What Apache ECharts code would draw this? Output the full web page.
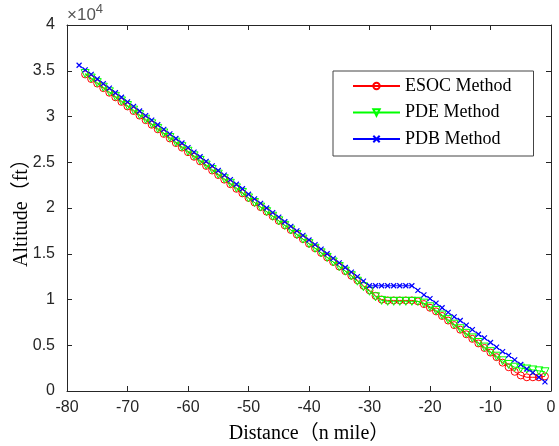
<!DOCTYPE html>
<html><head><meta charset="utf-8">
<script src="https://cdn.jsdelivr.net/npm/echarts@6/dist/echarts.min.js"></script>
<style>html,body{margin:0;padding:0;background:#fff}#c{width:559px;height:446px}</style>
</head><body><div id="c"></div><script>
// Distance (n mile) and altitude (x10^4 ft)
const pdbDist = [-78,-77,-76,-75,-74,-73,-72,-71,-70,-69,-68,-67,-66,-65,-64,-63,-62,-61,-60,-59,-58,-57,-56,-55,-54,-53,-52,-51,-50,-49,-48,-47,-46,-45,-44,-43,-42,-41,-40,-39,-38,-37,-36,-35,-34,-33,-32,-31,-30,-29,-28,-27,-26,-25,-24,-23,-22,-21,-20,-19,-18,-17,-16,-15,-14,-13,-12,-11,-10,-9,-8,-7,-6,-5,-4,-3,-2,-1];
const pdbAlt = [3.56,3.51,3.46,3.41,3.36,3.31,3.26,3.21,3.16,3.11,3.06,3.01,2.96,2.91,2.86,2.81,2.76,2.71,2.66,2.61,2.56,2.51,2.46,2.41,2.36,2.31,2.26,2.21,2.15,2.10,2.05,2.00,1.95,1.90,1.85,1.80,1.75,1.70,1.65,1.60,1.55,1.50,1.45,1.40,1.35,1.30,1.25,1.20,1.15,1.15,1.15,1.15,1.15,1.15,1.15,1.15,1.10,1.05,1.01,0.96,0.91,0.86,0.81,0.77,0.72,0.67,0.62,0.58,0.53,0.48,0.43,0.39,0.34,0.29,0.24,0.20,0.15,0.10];
const esocDist = [-77,-76,-75,-74,-73,-72,-71,-70,-69,-68,-67,-66,-65,-64,-63,-62,-61,-60,-59,-58,-57,-56,-55,-54,-53,-52,-51,-50,-49,-48,-47,-46,-45,-44,-43,-42,-41,-40,-39,-38,-37,-36,-35,-34,-33,-32,-31,-30,-29,-28,-27,-26,-25,-24,-23,-22,-21,-20,-19,-18,-17,-16,-15,-14,-13,-12,-11,-10,-9,-8,-7,-6,-5,-4,-3,-2,-1];
const esocAlt = [3.46,3.41,3.36,3.31,3.26,3.21,3.16,3.11,3.06,3.01,2.96,2.91,2.86,2.81,2.76,2.71,2.66,2.61,2.56,2.51,2.46,2.41,2.36,2.31,2.26,2.21,2.16,2.11,2.06,2.01,1.96,1.91,1.86,1.81,1.76,1.71,1.66,1.61,1.56,1.51,1.46,1.41,1.36,1.31,1.26,1.21,1.15,1.10,1.04,1.00,0.99,0.99,0.99,0.99,0.99,0.98,0.95,0.91,0.87,0.82,0.77,0.72,0.67,0.62,0.57,0.52,0.47,0.42,0.37,0.31,0.26,0.21,0.17,0.15,0.15,0.15,0.16];
const pdeDist = esocDist;
const pdeAlt = [3.47,3.42,3.37,3.32,3.27,3.22,3.17,3.12,3.07,3.02,2.97,2.92,2.87,2.82,2.77,2.72,2.67,2.62,2.57,2.52,2.47,2.42,2.37,2.32,2.27,2.22,2.17,2.11,2.06,2.01,1.96,1.91,1.86,1.81,1.76,1.71,1.66,1.61,1.56,1.51,1.46,1.41,1.36,1.31,1.26,1.20,1.14,1.09,1.03,0.99,0.98,0.98,0.98,0.98,0.98,0.98,0.96,0.92,0.88,0.83,0.78,0.73,0.68,0.63,0.58,0.53,0.48,0.43,0.38,0.33,0.29,0.26,0.25,0.24,0.23,0.22,0.21];
const seriesNames = ['ESOC Method','PDE Method','PDB Method'];
const xTitle = 'Distance（n mile）';
const yTitle = 'Altitude（ft）';

const pairs = (xs, ys) => xs.map((x, i) => [x, ys[i]]);
const axisColor = '#262626';
const tickFont = {fontFamily: 'Liberation Sans', fontSize: 16, color: axisColor};
const chart = echarts.init(document.getElementById('c'), null, {renderer: 'canvas'});
const boxAxis = {
  axisLine: {show: true, onZero: false, lineStyle: {color: axisColor, width: 1}},
  axisTick: {show: true, inside: true, length: 5, lineStyle: {color: axisColor}},
  splitLine: {show: false}
};
chart.setOption({
  animation: false,
  backgroundColor: '#fff',
  grid: {left: 67, top: 25, right: 8, bottom: 55, containLabel: false, outerBoundsMode: 'none'},
  xAxis: [
    Object.assign({type: 'value', min: -80, max: 0, interval: 10, position: 'bottom',
      name: xTitle, nameLocation: 'middle', nameGap: 33, nameMoveOverlap: false,
      nameTextStyle: {fontFamily: 'Liberation Serif, Noto Sans CJK SC', fontSize: 20, color: '#000'},
      axisLabel: Object.assign({margin: 9}, tickFont)}, boxAxis),
    Object.assign({type: 'value', min: -80, max: 0, interval: 10, position: 'top',
      axisLabel: {show: false}}, boxAxis)
  ],
  yAxis: [
    Object.assign({type: 'value', min: 0, max: 4, interval: 0.5, position: 'left',
      name: yTitle, nameLocation: 'middle', nameGap: 35, nameMoveOverlap: false,
      nameTextStyle: {fontFamily: 'Liberation Serif, Noto Sans CJK SC', fontSize: 20, color: '#000'},
      axisLabel: Object.assign({margin: 12}, tickFont)}, boxAxis),
    Object.assign({type: 'value', min: 0, max: 4, interval: 0.5, position: 'right',
      axisLabel: {show: false}}, boxAxis)
  ],
  legend: {
    orient: 'vertical', left: 333, top: 71,
    padding: [5, 22, 7, 19], itemGap: 6.5, itemWidth: 47, itemHeight: 8,
    backgroundColor: '#fff', borderColor: '#444', borderWidth: 1,
    textStyle: {fontFamily: 'Liberation Serif', fontSize: 18, color: '#000', lineHeight: 20},
    data: seriesNames
  },
  graphic: [{
    type: 'text', left: 67, top: 3,
    style: {
      text: '{a|×10}{b|4}',
      rich: {
        a: {fontFamily: 'Liberation Sans', fontSize: 17, fill: '#555', verticalAlign: 'bottom'},
        b: {fontFamily: 'Liberation Sans', fontSize: 13, fill: '#555', verticalAlign: 'top', padding: [0,0,8,0]}
      }
    }
  }],
  series: [
    {name: seriesNames[0], type: 'line', data: pairs(esocDist, esocAlt), xAxisIndex: 0, yAxisIndex: 0,
      symbol: 'circle', symbolSize: 7, showAllSymbol: true,
      lineStyle: {color: '#ff0000', width: 1},
      itemStyle: {color: 'rgba(0,0,0,0)', borderColor: '#ff0000', borderWidth: 1}},
    {name: seriesNames[1], type: 'line', data: pairs(pdeDist, pdeAlt), xAxisIndex: 0, yAxisIndex: 0,
      symbol: 'triangle', symbolRotate: 180, symbolSize: 8, showAllSymbol: true,
      lineStyle: {color: '#00ff00', width: 1},
      itemStyle: {color: 'rgba(0,0,0,0)', borderColor: '#00ff00', borderWidth: 1}},
    {name: seriesNames[2], type: 'line', data: pairs(pdbDist, pdbAlt), xAxisIndex: 0, yAxisIndex: 0,
      symbol: 'path://M0,0L10,10M10,0L0,10', symbolSize: 5, showAllSymbol: true,
      lineStyle: {color: '#0000ff', width: 1},
      itemStyle: {color: 'rgba(0,0,0,0)', borderColor: '#0000ff', borderWidth: 1.2}}
  ]
});
</script></body></html>
